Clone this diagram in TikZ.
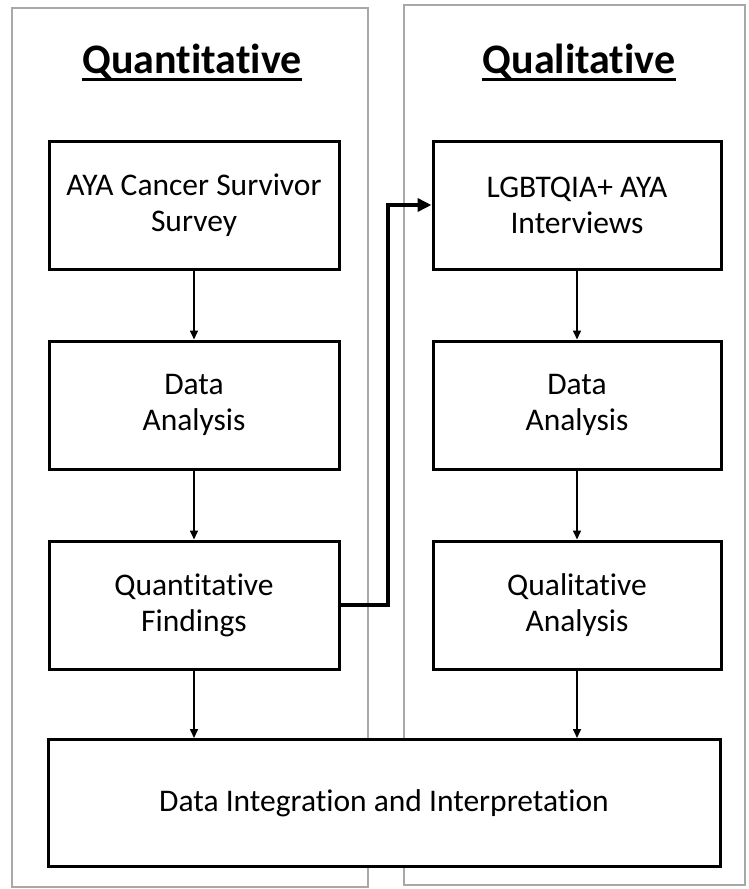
\documentclass[tikz,border=0pt]{standalone}
\usepackage{fontspec}
\setmainfont[Ligatures=NoCommon]{Carlito}
\usetikzlibrary{arrows.meta,positioning}
\definecolor{panelgray}{HTML}{A8A8A8}
\tikzset{
  panel/.style={draw=panelgray,line width=2.2pt},
  stage/.style={draw=black,line width=3pt,fill=white,rectangle,inner sep=0pt,
    align=center,font=\fontsize{31.5}{36}\selectfont,
    minimum width=290pt,minimum height=128pt},
  wide/.style={stage,minimum width=672pt,minimum height=127pt},
  heading/.style={inner sep=0pt,font=\fontsize{42}{48}\selectfont\bfseries},
  flow/.style={line width=1.6pt,-{Triangle[length=9pt,width=8pt]}},
  handoff/.style={line width=4pt,-{Triangle[length=14pt,width=13pt]}}
}
\begin{document}
\begin{tikzpicture}[x=1pt,y=-1pt]
\useasboundingbox (0,0) rectangle (748,889);

% two method panels
\draw[panel] (12,8) rectangle (368,887);
\draw[panel] (404,5) rectangle (745,885);

% panel headings with underline
\node[heading,anchor=base] (hq) at (192,73) {Quantitative};
\node[heading,anchor=base] (hl) at (579,73) {Qualitative};
\draw[line width=3pt] ([yshift=-6pt]hq.base west) -- ([yshift=-6pt]hq.base east);
\draw[line width=3pt] ([yshift=-6pt]hl.base west) -- ([yshift=-6pt]hl.base east);

% quantitative strand
\node[stage] (q1) at (194,205) {AYA Cancer Survivor\\Survey};
\node[stage] (q2) at (194,405) {Data\\Analysis};
\node[stage] (q3) at (194,605) {Quantitative\\Findings};

% qualitative strand
\node[stage,minimum width=288pt] (r1) at (577,205) {LGBTQIA+ AYA\\Interviews};
\node[stage,minimum width=288pt] (r2) at (577,405) {Data\\Analysis};
\node[stage,minimum width=288pt] (r3) at (577,605) {Qualitative\\Analysis};

% integration
\node[wide] (di) at (384,803) {Data Integration and Interpretation};

% vertical flow
\draw[flow] (q1) -- (q2);
\draw[flow] (q2) -- (q3);
\draw[flow] (q3.south) -- (q3.south |- di.north);
\draw[flow] (r1) -- (r2);
\draw[flow] (r2) -- (r3);
\draw[flow] (r3.south) -- (r3.south |- di.north);

% findings feed the interview stage
\draw[handoff] (q3.east) -- ++(47,0) |- (r1.west);
\end{tikzpicture}
\end{document}
